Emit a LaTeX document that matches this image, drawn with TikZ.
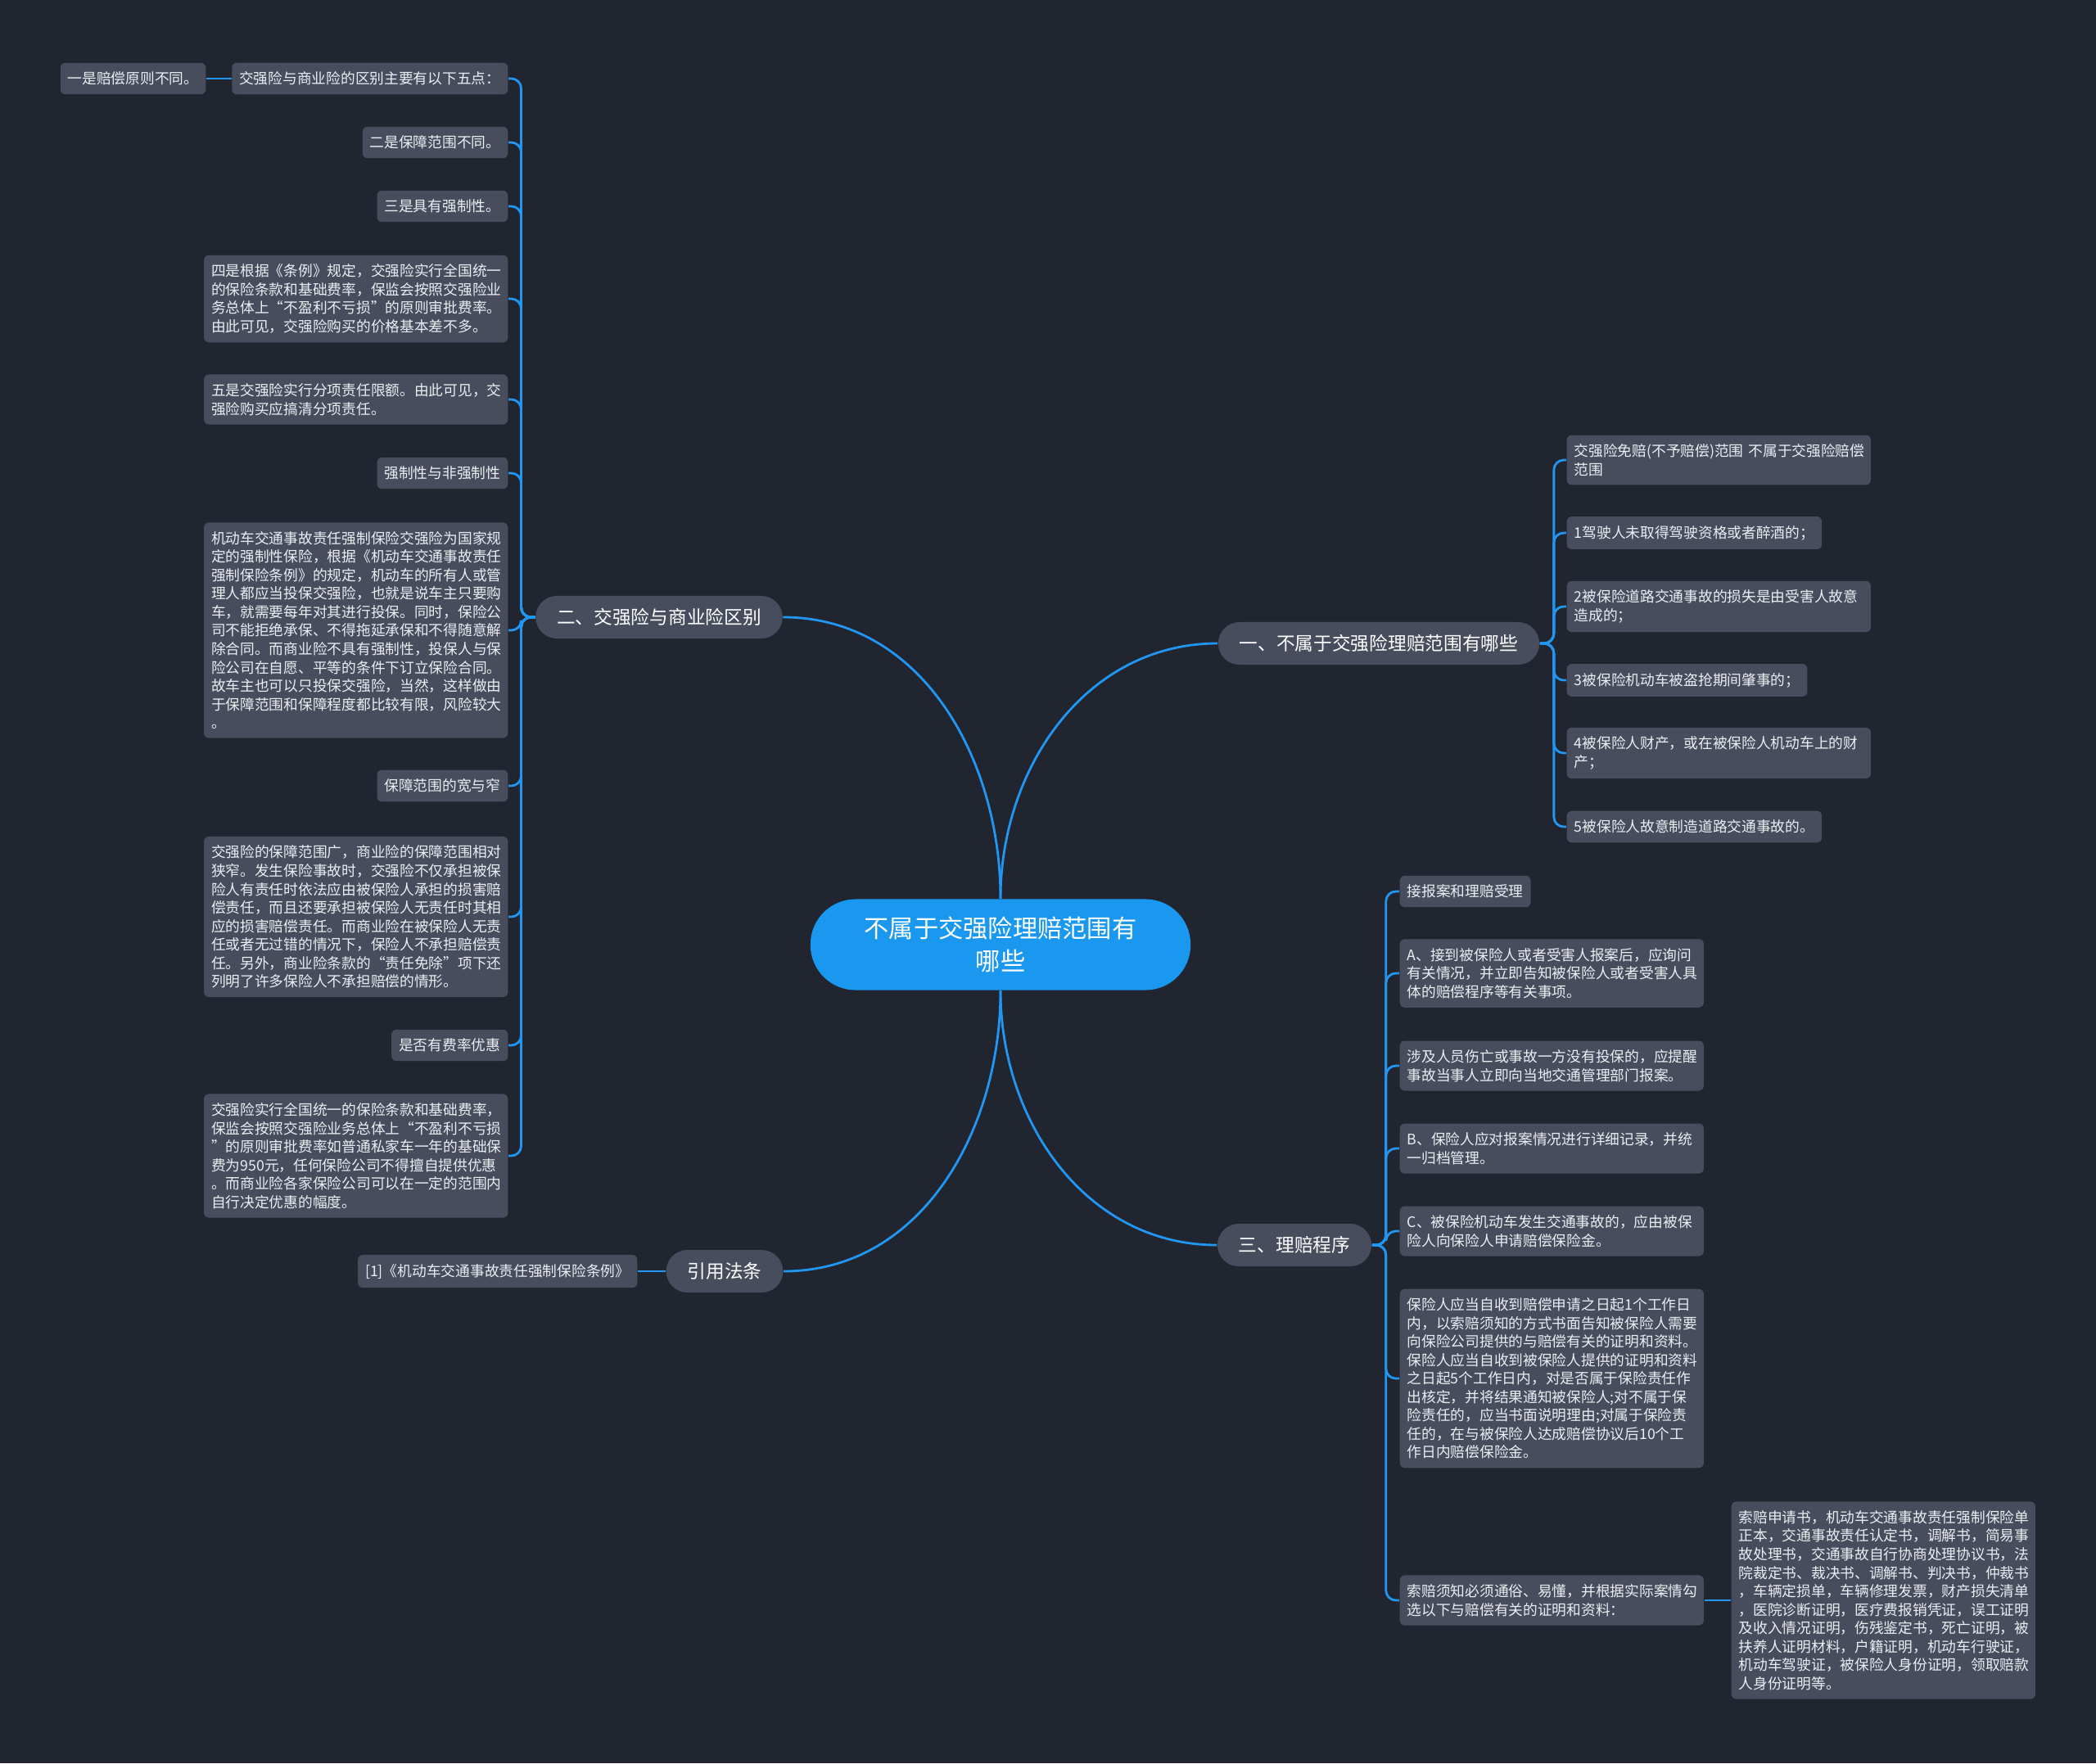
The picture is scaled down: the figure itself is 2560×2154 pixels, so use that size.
\documentclass[tikz,border=0pt]{standalone}
\usepackage{fontspec}
\setmainfont{Noto Sans CJK SC}
\definecolor{MapBg}{RGB}{33,37,48}
\definecolor{NodeGray}{RGB}{71,77,93}
\definecolor{LinkBlue}{RGB}{33,150,243}
\definecolor{RootBlue}{RGB}{26,152,240}
\definecolor{LeafText}{RGB}{236,238,242}
\tikzset{
  leaf/.style={fill=NodeGray,text=LeafText,rounded corners=0.6mm,inner xsep=0.9mm,inner ysep=1.1mm,align=left,font=\fontsize{5.04pt}{6.4pt}\selectfont},
  wideleaf/.style={leaf,text width=3.53cm},
  branch/.style={fill=NodeGray,text=white,rounded corners=2.6mm,minimum height=5.2mm,inner xsep=2.6mm,font=\fontsize{6.45pt}{8pt}\selectfont},
  link/.style={draw=LinkBlue,line width=0.8pt,rounded corners=1.2mm}
}
\begin{document}
\begin{tikzpicture}[x=0.01cm,y=-0.01cm]
\fill[MapBg] (0,0) rectangle (2560,2154);
% centre and main branches
\node[fill=RootBlue,text=white,rounded corners=5.5mm,minimum width=4.64cm,minimum height=1.11cm,align=center,font=\fontsize{8.6pt}{11.4pt}\selectfont] (root) at (1222,1154) {不属于交强险理赔范围有\\哪些};
\node[branch] (b2) at (805,754) {二、交强险与商业险区别};
\node[branch] (b1) at (1684,786) {一、不属于交强险理赔范围有哪些};
\node[branch] (b3) at (1581,1521) {三、理赔程序};
\node[branch] (law) at (885,1553) {引用法条};
\draw[link] (root.north) to[out=90,in=0] (b2.east);
\draw[link] (root.north) to[out=90,in=180] (b1.west);
\draw[link] (root.south) to[out=-90,in=180] (b3.west);
\draw[link] (root.south) to[out=-90,in=0] (law.east);
% left side
\node[leaf,anchor=east] (l1) at (621,96) {交强险与商业险的区别主要有以下五点：};
\node[leaf,anchor=east] (l0) at (252,96) {一是赔偿原则不同。};
\node[leaf,anchor=east] (l2) at (621,174) {二是保障范围不同。};
\node[leaf,anchor=east] (l3) at (621,252) {三是具有强制性。};
\node[wideleaf,anchor=east] (l4) at (621,365) {四是根据《条例》规定，交强险实行全国统一\\的保险条款和基础费率，保监会按照交强险业\\务总体上“不盈利不亏损”的原则审批费率。\\由此可见，交强险购买的价格基本差不多。};
\node[wideleaf,anchor=east] (l5) at (621,488) {五是交强险实行分项责任限额。由此可见，交\\强险购买应搞清分项责任。};
\node[leaf,anchor=east] (l6) at (621,578) {强制性与非强制性};
\node[wideleaf,anchor=east] (l7) at (621,770) {机动车交通事故责任强制保险交强险为国家规\\定的强制性保险，根据《机动车交通事故责任\\强制保险条例》的规定，机动车的所有人或管\\理人都应当投保交强险，也就是说车主只要购\\车，就需要每年对其进行投保。同时，保险公\\司不能拒绝承保、不得拖延承保和不得随意解\\除合同。而商业险不具有强制性，投保人与保\\险公司在自愿、平等的条件下订立保险合同。\\故车主也可以只投保交强险，当然，这样做由\\于保障范围和保障程度都比较有限，风险较大\\。};
\node[leaf,anchor=east] (l8) at (621,960) {保障范围的宽与窄};
\node[wideleaf,anchor=east] (l9) at (621,1120) {交强险的保障范围广，商业险的保障范围相对\\狭窄。发生保险事故时，交强险不仅承担被保\\险人有责任时依法应由被保险人承担的损害赔\\偿责任，而且还要承担被保险人无责任时其相\\应的损害赔偿责任。而商业险在被保险人无责\\任或者无过错的情况下，保险人不承担赔偿责\\任。另外，商业险条款的“责任免除”项下还\\列明了许多保险人不承担赔偿的情形。};
\node[leaf,anchor=east] (l10) at (621,1277) {是否有费率优惠};
\node[wideleaf,anchor=east] (l11) at (621,1412) {交强险实行全国统一的保险条款和基础费率，\\保监会按照交强险业务总体上“不盈利不亏损\\”的原则审批费率如普通私家车一年的基础保\\费为950元，任何保险公司不得擅自提供优惠\\。而商业险各家保险公司可以在一定的范围内\\自行决定优惠的幅度。};
\foreach \n in {l1,l2,l3,l4,l5,l6,l7,l8,l9,l10,l11}{\draw[link] (b2.west) -- ++(-17,0) |- (\n.east);}
\draw[link] (l1.west) -- (l0.east);
\node[leaf,anchor=east] (c1) at (779,1553) {[1]《机动车交通事故责任强制保险条例》};
\draw[link] (law.west) -- (c1.east);
% right side, upper
\node[wideleaf,anchor=west] (r0) at (1913,562) {交强险免赔(不予赔偿)范围~不属于交强险赔偿\\范围};
\node[leaf,anchor=west] (r1) at (1913,651) {1驾驶人未取得驾驶资格或者醉酒的；};
\node[wideleaf,anchor=west] (r2) at (1913,741) {2被保险道路交通事故的损失是由受害人故意\\造成的；};
\node[leaf,anchor=west] (r3) at (1913,831) {3被保险机动车被盗抢期间肇事的；};
\node[wideleaf,anchor=west] (r4) at (1913,920) {4被保险人财产，或在被保险人机动车上的财\\产；};
\node[leaf,anchor=west] (r5) at (1913,1010) {5被保险人故意制造道路交通事故的。};
\foreach \n in {r0,r1,r2,r3,r4,r5}{\draw[link] (b1.east) -- ++(17,0) |- (\n.west);}
% right side, lower
\node[leaf,anchor=west] (s0) at (1709,1089) {接报案和理赔受理};
\node[wideleaf,anchor=west] (s1) at (1709,1189) {A、接到被保险人或者受害人报案后，应询问\\有关情况，并立即告知被保险人或者受害人具\\体的赔偿程序等有关事项。};
\node[wideleaf,anchor=west] (s2) at (1709,1302) {涉及人员伤亡或事故一方没有投保的，应提醒\\事故当事人立即向当地交通管理部门报案。};
\node[wideleaf,anchor=west] (s3) at (1709,1403) {B、保险人应对报案情况进行详细记录，并统\\一归档管理。};
\node[wideleaf,anchor=west] (s4) at (1709,1504) {C、被保险机动车发生交通事故的，应由被保\\险人向保险人申请赔偿保险金。};
\node[wideleaf,anchor=west] (s5) at (1709,1684) {保险人应当自收到赔偿申请之日起1个工作日\\内，以索赔须知的方式书面告知被保险人需要\\向保险公司提供的与赔偿有关的证明和资料。\\保险人应当自收到被保险人提供的证明和资料\\之日起5个工作日内，对是否属于保险责任作\\出核定，并将结果通知被保险人;对不属于保\\险责任的，应当书面说明理由;对属于保险责\\任的，在与被保险人达成赔偿协议后10个工\\作日内赔偿保险金。};
\node[wideleaf,anchor=west] (s6) at (1709,1955) {索赔须知必须通俗、易懂，并根据实际案情勾\\选以下与赔偿有关的证明和资料：};
\node[wideleaf,anchor=west] (s7) at (2114,1955) {索赔申请书，机动车交通事故责任强制保险单\\正本，交通事故责任认定书，调解书，简易事\\故处理书，交通事故自行协商处理协议书，法\\院裁定书、裁决书、调解书、判决书，仲裁书\\，车辆定损单，车辆修理发票，财产损失清单\\，医院诊断证明，医疗费报销凭证，误工证明\\及收入情况证明，伤残鉴定书，死亡证明，被\\扶养人证明材料，户籍证明，机动车行驶证，\\机动车驾驶证，被保险人身份证明，领取赔款\\人身份证明等。};
\foreach \n in {s0,s1,s2,s3,s4,s5,s6}{\draw[link] (b3.east) -- ++(17,0) |- (\n.west);}
\draw[link] (s6.east) -- (s7.west);
\end{tikzpicture}
\end{document}
